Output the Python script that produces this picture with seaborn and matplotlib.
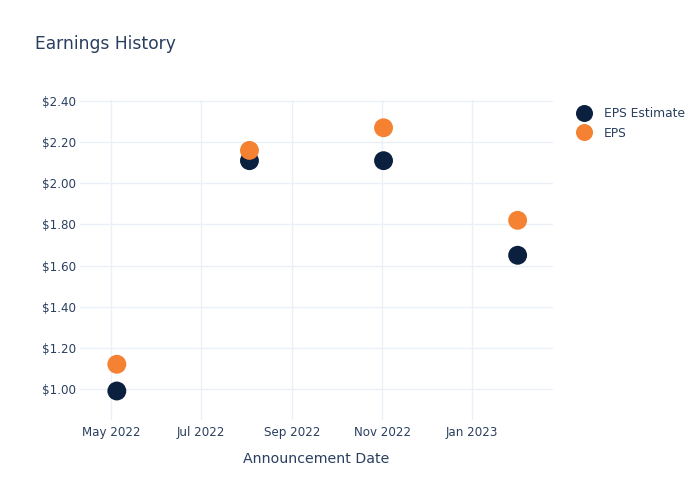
import matplotlib
matplotlib.use("Agg")
import matplotlib.pyplot as plt
import matplotlib.dates as mdates
from matplotlib.ticker import FuncFormatter, MultipleLocator
import seaborn as sns
import pandas as pd
import numpy as np

dates = ["2022-05-05", "2022-08-03", "2022-11-02", "2023-02-01"]
eps_estimate = [0.99, 2.11, 2.11, 1.65]
eps_actual = [1.12, 2.16, 2.27, 1.82]
series_names = ["EPS Estimate", "EPS"]
colors = ["#0b1f3f", "#f58233"]

df = pd.DataFrame({
    "date": pd.to_datetime(dates * 2),
    "value": eps_estimate + eps_actual,
    "series": [series_names[0]] * len(dates) + [series_names[1]] * len(dates),
})

sns.set_style("white")
plt.rcParams["font.family"] = ["DejaVu Sans"]
text_color = "#2a3f5f"
grid_color = "#ebf0f8"

fig = plt.figure(figsize=(7, 5), dpi=100)
ax = fig.add_axes([80 / 700, 80 / 500, 473 / 700, 320 / 500])

sns.scatterplot(data=df, x="date", y="value", hue="series",
                palette=dict(zip(series_names, colors)), s=185,
                edgecolor="none", linewidth=0, ax=ax, legend=True, zorder=3)

ax.set_xlim(pd.Timestamp("2022-04-10"), pd.Timestamp("2023-02-25"))
ax.set_ylim(0.849, 2.405)
ax.xaxis.set_major_locator(mdates.MonthLocator(bymonth=[1, 3, 5, 7, 9, 11]))
ax.xaxis.set_major_formatter(mdates.DateFormatter("%b %Y"))
ax.yaxis.set_major_locator(MultipleLocator(0.2))
ax.yaxis.set_major_formatter(FuncFormatter(lambda v, p: f"${v:.2f}"))
ax.grid(True, color=grid_color, linewidth=1, zorder=0)
ax.set_axisbelow(True)
for s in ax.spines.values():
    s.set_visible(False)
ax.tick_params(axis="both", length=0, labelsize=8.6, colors=text_color)
ax.tick_params(axis="y", pad=3)
ax.tick_params(axis="x", pad=4)
ax.set_ylabel("")
ax.set_xlabel("Announcement Date", fontsize=10.2, color=text_color, labelpad=10)

handles, labels = ax.get_legend_handles_labels()
ax.legend_.remove()
leg = fig.legend(handles, labels, loc="upper left",
                 bbox_to_anchor=(561 / 700, 1 - 96 / 500), frameon=False,
                 fontsize=8.8, handletextpad=0.6, labelspacing=0.55,
                 markerscale=0.9)
for t in leg.get_texts():
    t.set_color(text_color)

fig.text(35 / 700, 1 - 44 / 500, "Earnings History", fontsize=12.3,
         color=text_color, va="center", ha="left")

fig.savefig("out.png", dpi=100)
